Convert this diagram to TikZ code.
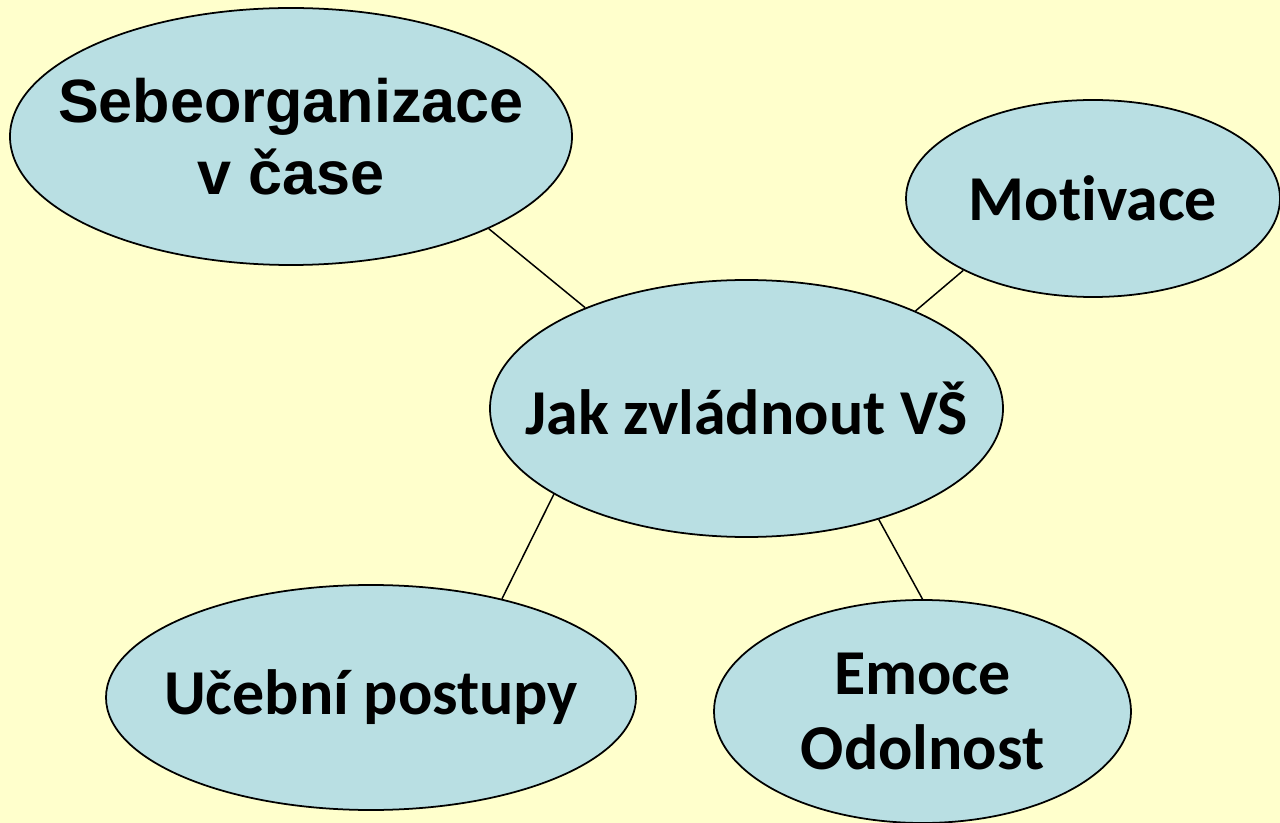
\documentclass[tikz,border=0pt]{standalone}
\usepackage{fontspec}
\setmainfont[Ligatures=NoCommon]{Carlito}
\newfontfamily\arialbold{Liberation Sans}
\usetikzlibrary{shapes.geometric}
\definecolor{paper}{RGB}{255,255,204}
\definecolor{bubblefill}{RGB}{185,223,227}
\begin{document}
\begin{tikzpicture}[
    bubble/.style={shape=ellipse,draw=black,line width=1pt,fill=bubblefill,inner sep=0pt},
    bubbletext/.style={align=center,font=\bfseries\fontsize{36.4}{42.5}\selectfont},
    link/.style={draw=black,line width=0.85pt}]
        \useasboundingbox[fill=paper] (0,0) rectangle (25.6,-16.46);

        \node[bubble,minimum width=11.24cm,minimum height=5.14cm,
            label={[bubbletext,font=\arialbold\bfseries\fontsize{34.8}{40.8}\selectfont]center:Sebeorganizace\\v čase}] (seb) at (5.82,-2.73) {};
        \node[bubble,minimum width=7.48cm,minimum height=3.94cm,
            label={[bubbletext]center:Motivace}] (mot) at (21.86,-3.97) {};
        \node[bubble,minimum width=10.26cm,minimum height=5.14cm,
            label={[bubbletext]center:Jak zvládnout VŠ}] (jak) at (14.93,-8.17) {};
        \node[bubble,minimum width=10.6cm,minimum height=4.5cm,
            label={[bubbletext]center:Učební postupy}] (ucb) at (7.42,-13.95) {};
        \node[bubble,minimum width=8.34cm,minimum height=4.46cm,
            label={[bubbletext]center:Emoce\\Odolnost}] (emo) at (18.45,-14.23) {};

        % spokes
        \path [link] (seb.-25.8) -- (jak.148.8);
        \path [link] (mot.209) -- (jak.30.8);
        \path [link] (jak.204) -- (ucb.37);
        \path [link] (jak.-40.9) -- (emo.90);
    \end{tikzpicture}
\end{document}
